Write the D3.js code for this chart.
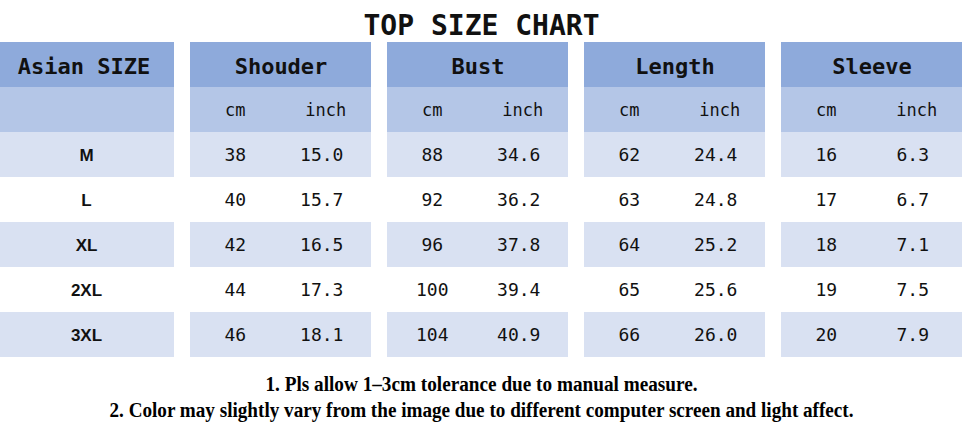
<!DOCTYPE html>
<html>
<head>
<meta charset="utf-8">
<script src="https://cdn.jsdelivr.net/npm/d3@7"></script>
<style>
  html, body { margin: 0; padding: 0; background: #fff; }
  svg { display: block; }
</style>
</head>
<body>
<svg></svg>
<script>
const W = 963, H = 433;

const title = "TOP SIZE CHART";
const sizeLabel = "Asian SIZE";
const sizes = ["M", "L", "XL", "2XL", "3XL"];
const measures = ["Shouder", "Bust", "Length", "Sleeve"];
const units = ["cm", "inch"];

const shoulderCm = [38, 40, 42, 44, 46];
const shoulderIn = ["15.0", "15.7", "16.5", "17.3", "18.1"];
const bustCm = [88, 92, 96, 100, 104];
const bustIn = ["34.6", "36.2", "37.8", "39.4", "40.9"];
const lengthCm = [62, 63, 64, 65, 66];
const lengthIn = ["24.4", "24.8", "25.2", "25.6", "26.0"];
const sleeveCm = [16, 17, 18, 19, 20];
const sleeveIn = ["6.3", "6.7", "7.1", "7.5", "7.9"];

const notes = [
  "1. Pls allow 1\u20133cm tolerance due to manual measure.",
  "2. Color may slightly vary from the image due to different computer screen and light affect."
];

// one table per measure, built from the arrays above
const tables = [
  { name: measures[0], cm: shoulderCm, inch: shoulderIn },
  { name: measures[1], cm: bustCm, inch: bustIn },
  { name: measures[2], cm: lengthCm, inch: lengthIn },
  { name: measures[3], cm: sleeveCm, inch: sleeveIn }
];

const svg = d3.select("svg").attr("width", W).attr("height", H);

const x = d3.scaleBand()
  .domain([sizeLabel, ...measures])
  .range([-7, 962])
  .paddingInner(16 / 197);

const y = d3.scaleBand()
  .domain(["header", "unit", ...sizes])
  .range([42, 357]);

const sub = d3.scaleBand().domain(units).range([0, x.bandwidth()]);

const rowFill = r => r === "header" ? "#8eaadb"
  : r === "unit" ? "#b4c6e7"
  : (sizes.indexOf(r) % 2 === 0 ? "#d9e1f2" : "#ffffff");

const mono = "'DejaVu Sans Mono', 'Liberation Mono', monospace";

// title
svg.append("text")
  .attr("x", W / 2)
  .attr("y", 35)
  .attr("text-anchor", "middle")
  .style("font-family", mono)
  .style("font-weight", "bold")
  .style("font-size", "28px")
  .attr("fill", "#111")
  .text(title);

// panels
const panels = svg.selectAll(".panel")
  .data([sizeLabel, ...measures])
  .join("g")
  .attr("class", "panel")
  .attr("transform", d => `translate(${x(d)},0)`);

panels.selectAll("rect")
  .data(y.domain())
  .join("rect")
  .attr("x", 0)
  .attr("y", d => y(d))
  .attr("width", x.bandwidth())
  .attr("height", y.bandwidth())
  .attr("fill", rowFill);

// header labels
panels.append("text")
  .attr("x", x.bandwidth() / 2 + 0.5)
  .attr("y", y("header") + y.bandwidth() / 2 + 9)
  .attr("text-anchor", "middle")
  .style("font-family", mono)
  .style("font-weight", "bold")
  .style("font-size", "22px")
  .attr("fill", "#111")
  .text(d => d);

// size labels
svg.append("g")
  .selectAll("text")
  .data(sizes)
  .join("text")
  .attr("x", x(sizeLabel) + x.bandwidth() / 2 + 3)
  .attr("y", d => y(d) + y.bandwidth() / 2 + 6.5)
  .attr("text-anchor", "middle")
  .style("font-family", "'Liberation Sans', Arial, sans-serif")
  .style("font-weight", "bold")
  .style("font-size", "17px")
  .attr("fill", "#111")
  .text(d => d);

// measure tables
const tg = svg.selectAll(".tbl")
  .data(tables)
  .join("g")
  .attr("class", "tbl")
  .attr("transform", d => `translate(${x(d.name)},0)`);

tg.selectAll(".unit")
  .data(units)
  .join("text")
  .attr("class", "unit")
  .attr("x", u => sub(u) + sub.bandwidth() / 2)
  .attr("y", y("unit") + y.bandwidth() / 2 + 6)
  .attr("text-anchor", "middle")
  .style("font-family", mono)
  .style("font-size", "17px")
  .attr("fill", "#111")
  .text(u => u);

tg.selectAll(".cm")
  .data(d => d.cm.map((v, i) => ({ v, s: sizes[i] })))
  .join("text")
  .attr("class", "cm")
  .attr("x", sub("cm") + sub.bandwidth() / 2)
  .attr("y", d => y(d.s) + y.bandwidth() / 2 + 6.5)
  .attr("text-anchor", "middle")
  .style("font-family", mono)
  .style("font-size", "18px")
  .attr("fill", "#111")
  .text(d => d.v);

tg.selectAll(".inch")
  .data(d => d.inch.map((v, i) => ({ v, s: sizes[i] })))
  .join("text")
  .attr("class", "inch")
  .attr("x", sub("inch") + sub.bandwidth() / 2 - 4)
  .attr("y", d => y(d.s) + y.bandwidth() / 2 + 6.5)
  .attr("text-anchor", "middle")
  .style("font-family", mono)
  .style("font-size", "18px")
  .attr("fill", "#111")
  .text(d => d.v);

// footnotes
const noteWidths = [432, 744];
svg.append("g")
  .selectAll("text")
  .data(notes)
  .join("text")
  .attr("x", W / 2)
  .attr("y", (d, i) => 391 + i * 26)
  .attr("text-anchor", "middle")
  .attr("textLength", (d, i) => noteWidths[i])
  .attr("lengthAdjust", "spacingAndGlyphs")
  .style("font-family", "'Liberation Serif', 'Times New Roman', serif")
  .style("font-weight", "bold")
  .style("font-size", "20px")
  .attr("fill", "#000")
  .text(d => d);
</script>
</body>
</html>
